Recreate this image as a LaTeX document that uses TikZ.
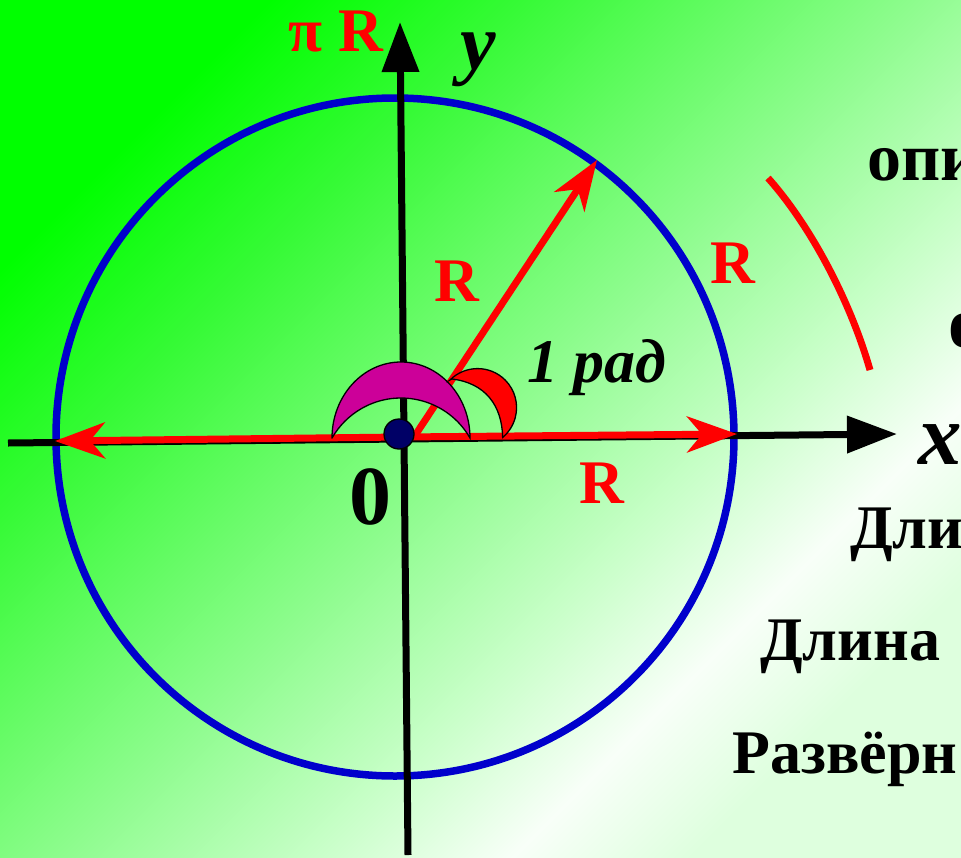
\documentclass[tikz,border=0pt]{standalone}
\usepackage{fontspec}
\setmainfont{Liberation Serif}
\usetikzlibrary{arrows.meta}
\definecolor{g0}{RGB}{0,255,0}
\definecolor{g1}{RGB}{55,250,55}
\definecolor{g2}{RGB}{140,252,140}
\definecolor{g3}{RGB}{205,255,205}
\definecolor{g4}{RGB}{248,255,248}
\definecolor{g5}{RGB}{222,255,222}
\definecolor{circblue}{RGB}{0,0,204}
\definecolor{crescmag}{RGB}{204,0,153}
\definecolor{navy}{RGB}{0,0,102}
\pgfdeclarehorizontalshading{bgshade}{100bp}{color(0bp)=(g0); color(25bp)=(g0); color(35bp)=(g1); color(50bp)=(g2); color(61bp)=(g3); color(68bp)=(g4); color(75bp)=(g5); color(100bp)=(g5)}
\newcommand\fsz[1]{\fontsize{#1}{#1}\selectfont}
\begin{document}
\begin{tikzpicture}[x=1pt,y=1pt,
  axis/.style={line width=7pt, draw=black, -{Triangle[length=50pt,width=36pt]}},
  redarrow/.style={line width=7pt, draw=red, -{Stealth[length=50pt,width=36pt,inset=15pt]}},
  lbl/.style={inner sep=0pt, text=black},
  redlbl/.style={inner sep=0pt, text=red, font={\bfseries\fsz{62}}},
  rtext/.style={inner sep=0pt, anchor=base west, text=black, font={\bfseries\fsz{62}}}]
\useasboundingbox (0,0) rectangle (961,-857);
\clip (0,0) rectangle (961,-857);
\shade[shading=bgshade, shading angle=-45] (0,0) rectangle (961,-857);

% circle
\draw[circblue, line width=7.5pt] (395,-437) circle (339);

% axes
\coordinate (xL) at (8,-443);
\coordinate (xR) at (897,-434);
\coordinate (yB) at (408,-855);
\coordinate (yT) at (400,-22);
\draw[axis] (xL) -- (xR);
\draw[axis] (yB) -- (yT);

% red arrows
\coordinate (O) at (402,-437);
\coordinate (Od) at (414,-437);
\coordinate (tipL) at (55,-441);
\coordinate (tipR) at (737,-434);
\coordinate (tipD) at (597,-160);
\draw[redarrow] (O) -- (tipL);
\draw[redarrow] (O) -- (tipR);
\draw[redarrow] (Od) -- (tipD);

% magenta crescent (in front of the red lines)
\draw[fill=crescmag, draw=black, line width=1.3pt]
  (332,-438) arc[start angle=180, end angle=0, x radius=69, y radius=76]
  arc[start angle=29.8, end angle=150.2, radius=79.5] -- cycle;

% red crescent
\draw[fill=red, draw=black, line width=1.3pt]
  (450,-380) arc[start angle=135, end angle=-50, radius=39]
  .. controls (502,-405) and (485,-383) .. (452,-379) -- cycle;

% origin dot
\node[circle, fill=navy, draw=black, line width=1.3pt, minimum size=30pt, inner sep=0pt] (dot) at (399,-434) {};

% red arc at right
\coordinate (arcA) at (768,-178);
\coordinate (arcB) at (870,-370);
\draw[red, line width=7pt] (arcA) .. controls (810,-225) and (850,-300) .. (arcB);

% labels
\node[redlbl] (piR) at (336,-32) {π R};
\node[lbl, font={\bfseries\itshape\fsz{80}}] (ylab) at (478,-60) {y};
\node[lbl, font={\bfseries\itshape\fsz{87}}] (xlab) at (940,-445) {x};
\node[redlbl] (Rd) at (457,-281) {R};
\node[redlbl] (Rr) at (733,-263) {R};
\node[redlbl] (Rb) at (602,-483) {R};
\node[lbl, font={\bfseries\fsz{84}}] (zero) at (370,-497) {0};
\node[lbl, anchor=base west, font={\bfseries\itshape\fsz{62}}] (rad) at (527,-382) {1 рад};

% right-hand text (cut by the picture edge)
\node[rtext, font={\bfseries\fsz{68}}] (t1) at (867,-180) {опи};
\node[rtext, font={\bfseries\fsz{72}}] (t2) at (948,-347) {о};
\node[rtext] (t3) at (850,-548) {Дли};
\node[rtext] (t4) at (760,-660) {Длина};
\node[rtext] (t5) at (732,-773) {Развёрн};
\end{tikzpicture}
\end{document}
